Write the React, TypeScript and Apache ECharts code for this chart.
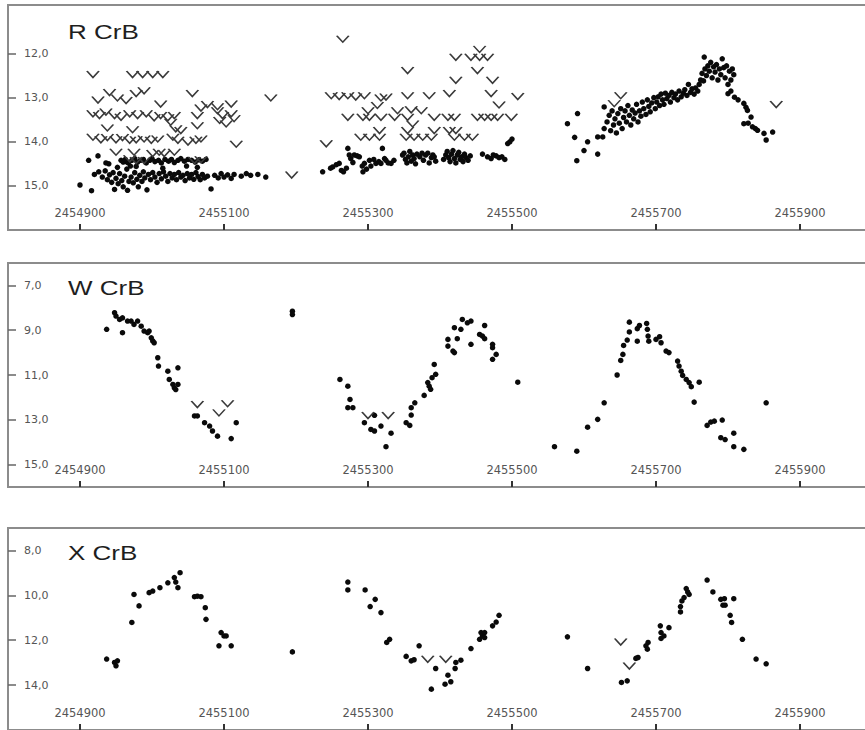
import React, { useEffect, useRef } from "react";
import * as echarts from "echarts";

// ---------- tick values ----------
const jdTicks = [2454900, 2455100, 2455300, 2455500, 2455700, 2455900];
const rMagTicks = [12, 13, 14, 15];
const wMagTicks = [7, 9, 11, 13, 15];
const xMagTicks = [8, 10, 12, 14];

const starNames = ["R CrB", "W CrB", "X CrB"];

// ---------- R CrB: observations [JD, mag] ----------
const rObs: number[][] = [
  [2454900, 14.98], [2454912, 14.42], [2454916, 15.11], [2454925, 14.32],
  [2454920, 14.74], [2454926, 14.68], [2454931, 14.8], [2454935, 14.66], [2454938, 14.86], [2454941, 14.75],
  [2454944, 14.92], [2454946, 14.7], [2454948, 15.08], [2454950, 14.83], [2454953, 14.95], [2454955, 14.72],
  [2454958, 14.88], [2454960, 15.02], [2454962, 14.78], [2454964, 14.45], [2454965, 14.62], [2454966, 15.1],
  [2454968, 14.9], [2454970, 14.55], [2454971, 14.8], [2454974, 14.93], [2454976, 14.7], [2454979, 14.85],
  [2454981, 15.02], [2454983, 14.76], [2454986, 14.9], [2454988, 14.68], [2454990, 14.82], [2454993, 15.09],
  [2454995, 14.74], [2454998, 14.86], [2455001, 14.7], [2455004, 14.8], [2455007, 14.92], [2455010, 14.72],
  [2455013, 14.84], [2455016, 14.68], [2455019, 14.78], [2455022, 14.9], [2455025, 14.72], [2455028, 14.82],
  [2455031, 14.74], [2455034, 14.86], [2455037, 14.7], [2455040, 14.8], [2455043, 14.76], [2455046, 14.88],
  [2455049, 14.72], [2455052, 14.82], [2455055, 14.74], [2455058, 14.85], [2455061, 14.7], [2455064, 14.79],
  [2455067, 14.86], [2455070, 14.74], [2455073, 14.82], [2455077, 14.78], [2455082, 15.07], [2455087, 14.76],
  [2455092, 14.82], [2455096, 14.72], [2455100, 14.8], [2455105, 14.75], [2455110, 14.83], [2455114, 14.74],
  [2455124, 14.78], [2455131, 14.72], [2455137, 14.76], [2455147, 14.74], [2455158, 14.8],
  [2454936, 14.48], [2454940, 14.5], [2454957, 14.42], [2454960, 14.46], [2454963, 14.4], [2454967, 14.48],
  [2454972, 14.42], [2454976, 14.38], [2454980, 14.46], [2454984, 14.42], [2454988, 14.4], [2454992, 14.48],
  [2454997, 14.42], [2455000, 14.38], [2455004, 14.45], [2455009, 14.42], [2455013, 14.48], [2455018, 14.4],
  [2455023, 14.44], [2455027, 14.4], [2455031, 14.47], [2455036, 14.42], [2455040, 14.38], [2455045, 14.44],
  [2455050, 14.4], [2455055, 14.42], [2455060, 14.46], [2455065, 14.41], [2455070, 14.44], [2455075, 14.4],
  [2454952, 14.58], [2454978, 14.56], [2455015, 14.6], [2455048, 14.55], [2455063, 14.58],
  // second season
  [2455237, 14.68], [2455248, 14.6], [2455251, 14.57], [2455256, 14.52], [2455260, 14.49], [2455263, 14.65],
  [2455266, 14.68], [2455270, 14.6], [2455272, 14.15], [2455274, 14.3], [2455276, 14.38], [2455279, 14.47],
  [2455281, 14.3], [2455285, 14.32], [2455288, 14.34], [2455292, 14.55], [2455293, 14.68], [2455295, 14.49],
  [2455298, 14.62], [2455302, 14.42], [2455304, 14.55], [2455308, 14.4], [2455311, 14.49], [2455315, 14.45],
  [2455318, 14.49], [2455320, 14.15], [2455323, 14.38], [2455325, 14.42], [2455328, 14.48], [2455332, 14.49],
  [2455336, 14.42],
  [2455348, 14.3], [2455350, 14.26], [2455352, 14.4], [2455354, 14.48], [2455356, 14.34], [2455358, 14.22],
  [2455360, 14.44], [2455362, 14.3], [2455364, 14.38], [2455366, 14.5], [2455368, 14.28],
  [2455372, 14.34], [2455375, 14.26], [2455377, 14.42], [2455380, 14.3], [2455383, 14.26], [2455385, 14.48],
  [2455388, 14.36], [2455390, 14.3], [2455392, 14.34], [2455394, 14.44],
  [2455405, 14.4], [2455408, 14.3], [2455410, 14.22], [2455412, 14.36], [2455414, 14.45], [2455416, 14.28],
  [2455418, 14.2], [2455420, 14.38], [2455422, 14.48], [2455424, 14.3], [2455426, 14.24], [2455428, 14.4],
  [2455430, 14.34], [2455432, 14.45], [2455434, 14.28], [2455436, 14.36], [2455439, 14.42], [2455442, 14.32],
  [2455459, 14.28], [2455466, 14.34], [2455471, 14.38], [2455474, 14.3], [2455478, 14.32], [2455482, 14.36],
  [2455486, 14.34], [2455490, 14.4], [2455494, 14.04], [2455497, 14.0], [2455500, 13.94],
  // third season
  [2455577, 13.59], [2455587, 13.9], [2455590, 14.43], [2455591, 13.36], [2455600, 14.2], [2455605, 14.0],
  [2455619, 14.28], [2455619, 13.89], [2455626, 13.89], [2455628, 13.7], [2455628, 13.21],
  [2455632, 13.55], [2455635, 13.4], [2455637, 13.75], [2455639, 13.3], [2455641, 13.62], [2455643, 13.48],
  [2455645, 13.8], [2455647, 13.36], [2455649, 13.58], [2455651, 13.25], [2455653, 13.7], [2455655, 13.45],
  [2455657, 13.3], [2455659, 13.55], [2455661, 13.18], [2455663, 13.4], [2455665, 13.62], [2455667, 13.28],
  [2455669, 13.48], [2455671, 13.35], [2455673, 13.15], [2455675, 13.55], [2455677, 13.3], [2455679, 13.42],
  [2455681, 13.1], [2455683, 13.25], [2455686, 13.38], [2455688, 13.05], [2455690, 13.2], [2455692, 13.32],
  [2455694, 13.12], [2455697, 13.0], [2455699, 13.25], [2455701, 13.1], [2455703, 12.98], [2455705, 13.18],
  [2455707, 12.92], [2455709, 13.05], [2455711, 13.15], [2455713, 12.9], [2455715, 13.02], [2455718, 12.95],
  [2455720, 13.1], [2455722, 12.88], [2455725, 13.0], [2455727, 12.92], [2455730, 13.05], [2455732, 12.85],
  [2455735, 12.98], [2455738, 12.9], [2455740, 12.82], [2455743, 12.95], [2455745, 12.7], [2455748, 12.88],
  [2455750, 12.8], [2455753, 12.92], [2455755, 12.78], [2455758, 12.85], [2455760, 12.7], [2455762, 12.6],
  [2455764, 12.45], [2455766, 12.62], [2455767, 12.08], [2455768, 12.35], [2455770, 12.5], [2455772, 12.28],
  [2455774, 12.4], [2455776, 12.2], [2455778, 12.55], [2455780, 12.3], [2455782, 12.42], [2455784, 12.25],
  [2455786, 12.6], [2455788, 12.35], [2455790, 12.48], [2455792, 12.12], [2455794, 12.32], [2455796, 12.55],
  [2455798, 12.28], [2455800, 12.7], [2455802, 12.4], [2455804, 12.6], [2455806, 12.35], [2455808, 12.48],
  [2455800, 12.91], [2455804, 12.85], [2455809, 12.99], [2455814, 13.05], [2455822, 13.13], [2455825, 13.22],
  [2455827, 13.29], [2455832, 13.44], [2455822, 13.59], [2455828, 13.58], [2455834, 13.66], [2455838, 13.7],
  [2455841, 13.74], [2455850, 13.81], [2455853, 13.96], [2455862, 13.78],
];

// ---------- R CrB: upper limits ("fainter than") ----------
const rLimits: number[][] = [
  [2454918, 12.47], [2454973, 12.47], [2454987, 12.47], [2455001, 12.47], [2455015, 12.47],
  [2454925, 13.05], [2454941, 12.88], [2454952, 13.0], [2454964, 13.06], [2454978, 12.9], [2454989, 12.84],
  [2455012, 13.14], [2455056, 12.9], [2455068, 13.23], [2455077, 13.15], [2455091, 13.2], [2455110, 13.14],
  [2455165, 13.0],
  [2454918, 13.36], [2454927, 13.4], [2454936, 13.32], [2454948, 13.4], [2454957, 13.44], [2454969, 13.36],
  [2454980, 13.4], [2454992, 13.36], [2455003, 13.45], [2455012, 13.4], [2455022, 13.45], [2455031, 13.4],
  [2455063, 13.4], [2455091, 13.29], [2455098, 13.4], [2455110, 13.36], [2455114, 13.47],
  [2454938, 13.68], [2454973, 13.72], [2455026, 13.55], [2455033, 13.7], [2455040, 13.74], [2455063, 13.63],
  [2455094, 13.51], [2455103, 13.59],
  [2454918, 13.89], [2454929, 13.95], [2454938, 13.9], [2454950, 13.95], [2454959, 13.9], [2454969, 13.96],
  [2454978, 13.95], [2454989, 13.93], [2454999, 13.96], [2455008, 13.93], [2455029, 13.89], [2455036, 13.96],
  [2455050, 14.0], [2455061, 13.96], [2455068, 13.93], [2455117, 14.05],
  [2454950, 14.23], [2454975, 14.23], [2455001, 14.26], [2455010, 14.23], [2455017, 14.26], [2455031, 14.23],
  [2454969, 14.38], [2454978, 14.42], [2454989, 14.42], [2455059, 14.42], [2455068, 14.4],
  [2455194, 14.75],
  [2455242, 14.04], [2455265, 11.67],
  [2455249, 12.95], [2455260, 12.97], [2455272, 12.95], [2455283, 12.98], [2455295, 12.95],
  [2455318, 13.0], [2455325, 12.98], [2455313, 13.17],
  [2455355, 12.38], [2455355, 12.95], [2455385, 12.95], [2455413, 12.9],
  [2455422, 12.08], [2455422, 12.6], [2455443, 12.08], [2455455, 12.08], [2455466, 12.08], [2455455, 11.9],
  [2455452, 12.38], [2455473, 12.6], [2455471, 12.9], [2455482, 13.16], [2455508, 12.97],
  [2455300, 13.29], [2455341, 13.29], [2455360, 13.27], [2455374, 13.29],
  [2455272, 13.44], [2455293, 13.44], [2455302, 13.44], [2455318, 13.44], [2455337, 13.44], [2455355, 13.44],
  [2455392, 13.44], [2455411, 13.44], [2455420, 13.44], [2455452, 13.44], [2455462, 13.44], [2455471, 13.44],
  [2455480, 13.44], [2455499, 13.44],
  [2455362, 13.59],
  [2455316, 13.74], [2455355, 13.74], [2455392, 13.74], [2455413, 13.74], [2455422, 13.74],
  [2455290, 13.89], [2455302, 13.89], [2455316, 13.89], [2455353, 13.89], [2455364, 13.89], [2455376, 13.89],
  [2455388, 13.89], [2455420, 13.89], [2455434, 13.89], [2455445, 13.89],
  [2455642, 13.13], [2455651, 12.95], [2455867, 13.15],
];

// ---------- W CrB ----------
const wObs: number[][] = [
  [2454937, 8.96], [2454948, 8.22], [2454950, 8.37], [2454955, 8.52], [2454959, 8.45], [2454966, 8.59],
  [2454971, 8.59], [2454975, 8.74], [2454980, 8.59], [2454985, 8.82], [2454989, 9.04], [2454994, 9.11],
  [2454959, 9.11], [2454996, 9.04], [2454999, 9.34], [2455001, 9.48], [2455003, 9.56],
  [2455008, 10.23], [2455009, 10.6], [2455022, 10.83], [2455024, 11.2], [2455029, 11.42], [2455031, 11.57],
  [2455033, 11.65], [2455036, 11.42], [2455036, 10.68],
  [2455059, 12.83], [2455063, 12.83], [2455073, 13.13], [2455080, 13.28], [2455084, 13.5], [2455091, 13.73],
  [2455110, 13.84], [2455117, 13.13], [2455195, 8.15], [2455195, 8.3],
  [2455261, 11.2], [2455272, 11.5], [2455275, 12.09], [2455272, 12.46], [2455279, 12.46], [2455295, 13.13],
  [2455304, 13.43], [2455309, 13.5], [2455309, 12.8], [2455318, 13.28], [2455325, 14.2], [2455332, 13.6],
  [2455353, 13.13], [2455358, 13.25], [2455360, 12.79], [2455360, 12.46], [2455365, 12.24], [2455378, 11.91],
  [2455383, 11.34], [2455385, 11.5], [2455387, 11.64], [2455389, 11.12], [2455394, 10.97], [2455392, 10.53],
  [2455411, 9.41], [2455411, 9.71], [2455418, 9.93], [2455420, 10.0], [2455424, 9.38], [2455420, 8.89],
  [2455429, 8.96], [2455431, 8.52], [2455438, 8.67], [2455443, 8.59], [2455443, 9.63], [2455455, 9.19],
  [2455459, 9.26], [2455462, 8.79], [2455462, 9.38], [2455473, 9.63], [2455473, 9.78], [2455478, 10.08],
  [2455473, 10.3], [2455508, 11.32], [2455559, 14.2], [2455590, 14.4],
  [2455605, 13.33], [2455619, 12.98], [2455628, 12.24], [2455646, 11.0], [2455651, 10.35], [2455654, 10.08],
  [2455655, 9.68], [2455660, 9.44], [2455663, 9.08], [2455663, 8.64], [2455674, 9.49], [2455674, 8.93],
  [2455677, 8.79], [2455687, 8.7], [2455688, 8.96], [2455689, 9.26], [2455690, 9.49], [2455700, 9.41],
  [2455705, 9.29], [2455707, 9.56], [2455714, 9.93], [2455718, 10.0], [2455730, 10.38], [2455732, 10.6],
  [2455735, 10.83], [2455737, 11.02], [2455742, 11.2], [2455746, 11.34], [2455749, 11.52], [2455760, 11.32],
  [2455753, 12.21], [2455771, 13.25], [2455776, 13.1], [2455781, 13.06], [2455792, 13.01], [2455790, 13.8],
  [2455796, 13.88], [2455808, 13.6], [2455808, 14.2], [2455822, 14.32], [2455853, 12.24],
];
const wLimits: number[][] = [
  [2455063, 12.31], [2455093, 12.68], [2455105, 12.27], [2455300, 12.8], [2455328, 12.8],
];

// ---------- X CrB ----------
const xObs: number[][] = [
  [2454937, 12.84], [2454948, 12.99], [2454950, 13.14], [2454952, 12.92], [2454972, 11.21], [2454975, 9.96],
  [2454982, 10.47], [2454996, 9.88], [2455001, 9.81], [2455011, 9.66], [2455022, 9.44], [2455031, 9.21],
  [2455033, 9.41], [2455036, 9.66], [2455039, 8.99], [2455059, 10.06], [2455063, 10.04], [2455068, 10.06],
  [2455074, 10.55], [2455075, 11.07], [2455093, 12.25], [2455096, 11.66], [2455100, 11.81], [2455103, 11.81],
  [2455110, 12.25], [2455195, 12.52],
  [2455272, 9.41], [2455272, 9.76], [2455296, 9.76], [2455303, 10.5], [2455310, 10.18], [2455318, 10.77],
  [2455326, 12.1], [2455330, 11.96], [2455353, 12.72], [2455360, 12.92], [2455364, 12.87], [2455371, 12.25],
  [2455388, 14.18], [2455394, 13.26], [2455407, 13.96], [2455411, 13.56], [2455415, 13.85], [2455421, 13.26],
  [2455422, 12.99], [2455429, 12.89], [2455443, 12.37], [2455455, 11.96], [2455459, 11.81], [2455457, 11.66],
  [2455462, 11.66], [2455462, 11.88], [2455473, 11.36], [2455478, 11.19], [2455482, 10.89], [2455577, 11.85],
  [2455605, 13.26], [2455652, 13.88], [2455660, 13.81], [2455672, 12.81], [2455675, 12.77], [2455686, 12.25],
  [2455689, 12.1], [2455688, 12.4], [2455706, 11.36], [2455707, 11.66], [2455707, 11.92], [2455711, 11.81],
  [2455718, 11.44], [2455734, 10.74], [2455734, 10.5], [2455736, 10.25], [2455739, 10.1], [2455742, 9.7],
  [2455746, 9.96], [2455744, 9.85], [2455771, 9.32], [2455779, 9.85], [2455790, 10.18], [2455795, 10.15],
  [2455793, 10.44], [2455796, 10.44], [2455808, 10.15], [2455803, 10.89], [2455805, 11.21], [2455820, 11.96],
  [2455839, 12.84], [2455853, 13.05],
];
const xLimits: number[][] = [
  [2455383, 12.84], [2455408, 12.84], [2455651, 12.07], [2455663, 13.14],
];

const panels = [
  { obs: rObs, lim: rLimits, ticks: rMagTicks, min: 10.9, max: 16, top: 5, height: 225, titleY: 32 },
  { obs: wObs, lim: wLimits, ticks: wMagTicks, min: 6, max: 16, top: 263, height: 224, titleY: 288 },
  { obs: xObs, lim: xLimits, ticks: xMagTicks, min: 7, max: 16, top: 528, height: 202, titleY: 553 },
];

const V_SYMBOL = "path://M0,0L6,6L12,0";

export default function App() {
  const ref = useRef<HTMLDivElement>(null);
  useEffect(() => {
    if (!ref.current) return;
    const chart = echarts.init(ref.current, undefined, { renderer: "svg" });
    const grids: any[] = [];
    const xAxes: any[] = [];
    const yAxes: any[] = [];
    const series: any[] = [];
    const graphics: any[] = [];
    panels.forEach((p, i) => {
      grids.push({
        left: 8,
        width: 936,
        top: p.top,
        height: p.height,
        containLabel: false,
        outerBoundsMode: "none",
        show: true,
        borderColor: "#8c8c8c",
        borderWidth: 2,
        backgroundColor: "#fff",
      });
      xAxes.push({
        type: "value",
        gridIndex: i,
        min: 2454800,
        max: 2456100,
        splitLine: { show: false },
        axisLine: { show: false },
        axisTick: {
          show: true,
          inside: true,
          length: 6,
          customValues: jdTicks,
          lineStyle: { color: "#333", width: 2 },
        },
        axisLabel: {
          show: true,
          inside: true,
          margin: 11,
          customValues: jdTicks,
          color: "#555",
          fontFamily: "DejaVu Sans",
          fontSize: 11.5,
          formatter: (v: number) => String(v),
        },
      });
      yAxes.push({
        type: "value",
        gridIndex: i,
        inverse: true,
        min: p.min,
        max: p.max,
        splitLine: { show: false },
        axisLine: { show: false },
        axisTick: {
          show: true,
          inside: true,
          length: 8,
          customValues: p.ticks,
          lineStyle: { color: "#666", width: 1.5 },
        },
        axisLabel: {
          show: true,
          inside: true,
          margin: 16,
          customValues: p.ticks,
          color: "#555",
          fontFamily: "DejaVu Sans",
          fontSize: 11,
          formatter: (v: number) => v.toFixed(1).replace(".", ","),
        },
      });
      series.push({
        type: "scatter",
        xAxisIndex: i,
        yAxisIndex: i,
        data: p.obs,
        symbol: "circle",
        symbolSize: 5.5,
        itemStyle: { color: "#0a0a0a", opacity: 1 },
        silent: true,
      });
      series.push({
        type: "scatter",
        xAxisIndex: i,
        yAxisIndex: i,
        data: p.lim,
        symbol: V_SYMBOL,
        symbolSize: [12, 6.5],
        itemStyle: { color: "rgba(0,0,0,0)", borderColor: "#3a3a3a", borderWidth: 1.4, opacity: 1 },
        silent: true,
      });
      graphics.push({
        type: "text",
        x: 68,
        y: p.titleY,
        scaleX: 1.3,
        z: 100,
        style: {
          text: starNames[i],
          x: 0,
          y: 0,
          fontFamily: "Liberation Sans, Arial, sans-serif",
          fontSize: 20,
          fill: "#1e1e1e",
          align: "left",
          verticalAlign: "middle",
        },
      });
    });
    chart.setOption({
      animation: false,
      backgroundColor: "#fff",
      grid: grids,
      xAxis: xAxes,
      yAxis: yAxes,
      series,
      graphic: graphics,
    });
    return () => chart.dispose();
  }, []);
  return (
    <div
      ref={ref}
      style={{ position: "absolute", left: 0, top: 0, width: 865, height: 730, background: "#fff" }}
    />
  );
}
